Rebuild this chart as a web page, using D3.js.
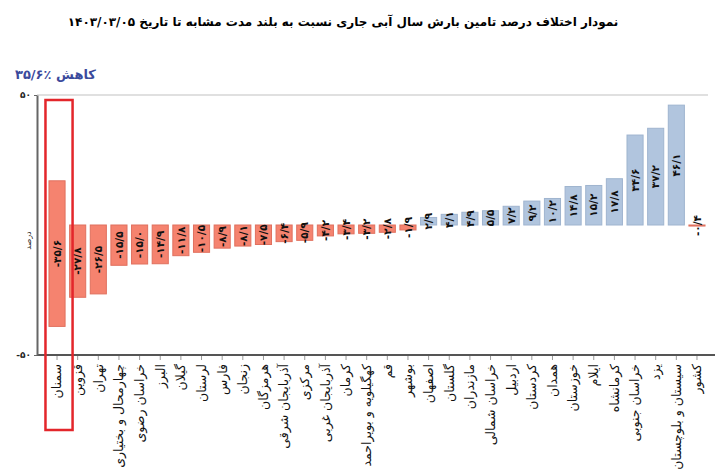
<!DOCTYPE html>
<html>
<head>
<meta charset="utf-8">
<script src="https://cdn.jsdelivr.net/npm/d3@7"></script>
<style>
  body { margin: 0; background: #fff; }
  svg { display: block; font-family: "DejaVu Sans", sans-serif; }
</style>
</head>
<body>
<svg id="chart" width="715" height="475"></svg>
<script>
// provinces, left to right
var provinces = ["سمنان", "قزوین", "تهران", "چهارمحال و بختیاری", "خراسان رضوی", "البرز",
    "گیلان", "لرستان", "فارس", "زنجان", "هرمزگان", "آذربایجان شرقی", "مرکزی", "آذربایجان غربی",
    "کرمان", "کهگیلویه و بویراحمد", "قم", "بوشهر", "اصفهان", "گلستان", "مازندران", "خراسان شمالی",
    "اردبیل", "کردستان", "همدان", "خوزستان", "ایلام", "کرمانشاه", "خراسان جنوبی", "یزد",
    "سیستان و بلوچستان", "کشور"];

// difference in percent vs long term
var diffs = [-35.6, -27.8, -26.5, -15.5, -15.0, -14.9, -11.8, -10.5, -8.9, -8.1, -7.5, -6.4,
    -5.9, -4.2, -3.4, -3.2, -2.8, -1.9, 2.9, 4.1, 4.9, 5.5, 7.2, 9.2, 10.2, 14.8, 15.2, 17.8,
    34.6, 37.2, 46.1, -0.4];

// the highlighted semnan bar is drawn floating in the source picture
var semnanSpan = [17, -39];

var yTicks = [-50, 50];
var noteText = "\u200E۳۵/۶٪ کاهش";
var titleText = "نمودار اختلاف درصد تامین بارش  سال آبی جاری نسبت به بلند مدت مشابه تا تاریخ  ۱۴۰۳/۰۳/۰۵";

var faDigits = "۰۱۲۳۴۵۶۷۸۹";
function fa(s) {
    return String(s).replace(/\d/g, function(d) { return faDigits[+d]; });
}
function fmt(v) {
    return fa(v.toFixed(1).replace(".", "/"));
}

var svg = d3.select("#chart");

var x = d3.scaleBand()
    .domain(provinces)
    .range([46.7, 707.3])
    .paddingInner(0.22)
    .paddingOuter(0.11);

var y = d3.scaleLinear()
    .domain([-50, 50])
    .range([355, 95]);

var axisLeftX = 37;

// title
svg.append("text")
    .attr("x", 343)
    .attr("y", 26)
    .attr("text-anchor", "middle")
    .attr("direction", "rtl")
    .style("font-size", "12px")
    .style("font-weight", "bold")
    .text(titleText);

// note top-left
svg.append("text")
    .attr("x", 15)
    .attr("y", 79)
    .attr("direction", "ltr")
    .attr("text-anchor", "start")
    .style("font-size", "13px")
    .style("font-weight", "bold")
    .style("fill", "#3b4a9c")
    .text(noteText);

// top gridline
svg.append("line")
    .attr("x1", axisLeftX).attr("x2", 708)
    .attr("y1", y(50)).attr("y2", y(50))
    .style("stroke", "#d6d6d6")
    .style("stroke-width", 1.5);

// bars
svg.selectAll("rect.bar")
    .data(provinces)
    .enter()
    .append("rect")
    .attr("class", "bar")
    .attr("x", function(d) { return x(d); })
    .attr("width", x.bandwidth())
    .attr("y", function(d, i) {
        if (i === 0) return y(semnanSpan[0]);
        return y(Math.max(0, diffs[i]));
    })
    .attr("height", function(d, i) {
        if (i === 0) return y(semnanSpan[1]) - y(semnanSpan[0]);
        return Math.abs(y(diffs[i]) - y(0));
    })
    .style("fill", function(d, i) { return diffs[i] < 0 ? "#f5836f" : "#b1c5de"; })
    .style("stroke", function(d, i) { return diffs[i] < 0 ? "#e0705e" : "#9fb4cf"; })
    .style("stroke-width", 1);

// value labels inside bars
svg.selectAll("text.val")
    .data(provinces)
    .enter()
    .append("text")
    .attr("class", "val")
    .attr("transform", function(d, i) {
        var cx = x(d) + x.bandwidth() / 2;
        var cy = i === 0 ? (y(semnanSpan[0]) + y(semnanSpan[1])) / 2 : (y(diffs[i]) + y(0)) / 2;
        return "translate(" + cx + "," + cy + ") rotate(-90)";
    })
    .attr("text-anchor", "middle")
    .attr("dy", "0.35em")
    .style("font-size", "10.5px")
    .style("font-weight", "bold")
    .style("fill", "#111")
    .text(function(d, i) { return fmt(diffs[i]); });

// x axis at the bottom (-50)
var xAxis = svg.append("g")
    .attr("transform", "translate(0," + y(-50) + ")")
    .call(d3.axisBottom(x).tickSize(5).tickSizeOuter(0));
xAxis.select(".domain").remove();
xAxis.selectAll(".tick line").style("stroke", "#999");
xAxis.selectAll(".tick text")
    .attr("transform", "rotate(-90)")
    .attr("x", -9)
    .attr("y", 0)
    .attr("dy", "0.35em")
    .attr("text-anchor", "end")
    .style("font-family", "DejaVu Sans, sans-serif")
    .style("font-size", "12.5px")
    .style("fill", "#111");

svg.append("line")
    .attr("x1", axisLeftX).attr("x2", 715)
    .attr("y1", y(-50)).attr("y2", y(-50))
    .style("stroke", "#555")
    .style("stroke-width", 2.2);

// y axis
var yAxis = svg.append("g")
    .attr("transform", "translate(" + axisLeftX + ",0)")
    .call(d3.axisLeft(y).tickValues(yTicks).tickSize(3).tickSizeOuter(0)
        .tickFormat(function(d) { return d < 0 ? "-" + fa(-d) : fa(d); }));
yAxis.select(".domain").style("stroke", "#666").style("stroke-width", 2);
yAxis.selectAll(".tick line").style("stroke", "#666");
yAxis.selectAll(".tick text")
    .style("font-family", "DejaVu Sans, sans-serif")
    .style("font-size", "9px")
    .style("font-weight", "bold")
    .style("fill", "#222");

// y axis title
svg.append("text")
    .attr("transform", "translate(31," + y(-6) + ") rotate(-90)")
    .attr("text-anchor", "middle")
    .style("font-size", "8px")
    .style("fill", "#222")
    .text("درصد");

// red highlight box around semnan
svg.append("rect")
    .attr("x", x("سمنان") - 3.5)
    .attr("y", 100)
    .attr("width", x.bandwidth() + 11)
    .attr("height", 330)
    .style("fill", "none")
    .style("stroke", "#e3262b")
    .style("stroke-width", 2.5);
</script>
</body>
</html>
